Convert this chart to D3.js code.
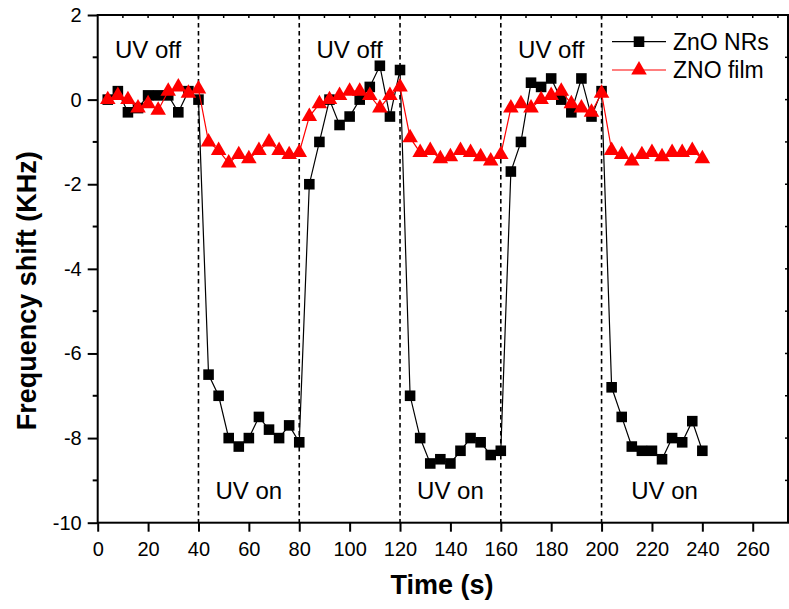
<!DOCTYPE html>
<html>
<head>
<meta charset="utf-8">
<script src="https://cdn.jsdelivr.net/npm/d3@7"></script>
<style>
  body { margin: 0; background: #fff; }
  text { font-family: "Liberation Sans", Arial, sans-serif; }
</style>
</head>
<body>
<svg id="chart" width="789" height="609"></svg>
<script>
"use strict";

// === Data ===
let times = [4, 8, 12, 16, 20, 24, 28, 32, 36, 40,
  44, 48, 52, 56, 60, 64, 68, 72, 76, 80,
  84, 88, 92, 96, 100, 104, 108, 112, 116, 120,
  124, 128, 132, 136, 140, 144, 148, 152, 156, 160,
  164, 168, 172, 176, 180, 184, 188, 192, 196, 200,
  204, 208, 212, 216, 220, 224, 228, 232, 236, 240];

let nrsValues = [0.0, 0.2, -0.3, -0.2, 0.1, 0.1, 0.1, -0.3, 0.2, 0.0,
  -6.5, -7.0, -8.0, -8.2, -8.0, -7.5, -7.8, -8.0, -7.7, -8.1,
  -2.0, -1.0, 0.0, -0.6, -0.4, 0.0, 0.3, 0.8, -0.4, 0.7,
  -7.0, -8.0, -8.6, -8.5, -8.6, -8.3, -8.0, -8.1, -8.4, -8.3,
  -1.7, -1.0, 0.4, 0.3, 0.5, 0.0, -0.3, 0.5, -0.4, 0.2,
  -6.8, -7.5, -8.2, -8.3, -8.3, -8.5, -8.0, -8.1, -7.6, -8.3];

let filmValues = [0.0, 0.1, 0.0, -0.2, -0.1, -0.25, 0.2, 0.3, 0.15, 0.25,
  -1.0, -1.2, -1.5, -1.3, -1.4, -1.2, -1.0, -1.2, -1.3, -1.25,
  -0.4, -0.1, 0.0, 0.1, 0.2, 0.2, 0.1, -0.2, 0.1, 0.3,
  -0.9, -1.25, -1.2, -1.4, -1.35, -1.2, -1.25, -1.35, -1.45, -1.3,
  -0.2, -0.1, -0.2, 0.0, 0.1, 0.2, -0.1, -0.2, -0.3, 0.15,
  -1.2, -1.3, -1.45, -1.3, -1.25, -1.35, -1.25, -1.25, -1.2, -1.4];

let switchTimes = [40, 80, 120, 160, 200];
let uvLabels = [
  { text: "UV off", t: 20, v: 0.98 },
  { text: "UV on", t: 60, v: -9.45 },
  { text: "UV off", t: 100, v: 0.98 },
  { text: "UV on", t: 140, v: -9.45 },
  { text: "UV off", t: 180, v: 0.98 },
  { text: "UV on", t: 225, v: -9.45 }
];
let xTicks = d3.range(0, 261, 20);
let yTicks = d3.range(-10, 3, 2);
let seriesNames = ["ZnO NRs", "ZNO film"];

// === Setup ===
let svg = d3.select("#chart");
let plotLeft = 97.7, plotRight = 788, plotTop = 15, plotBottom = 522.7;

let x = d3.scaleLinear().domain([0, 274]).range([plotLeft, plotRight]);
let y = d3.scaleLinear().domain([-10, 2]).range([plotBottom, plotTop]);

// === Axes ===
let xAxis = svg.append("g")
  .attr("transform", `translate(0,${plotBottom})`)
  .call(d3.axisBottom(x).tickValues(xTicks).tickSize(9).tickPadding(10).tickSizeOuter(0));
let yAxis = svg.append("g")
  .attr("transform", `translate(${plotLeft},0)`)
  .call(d3.axisLeft(y).tickValues(yTicks).tickSize(10).tickPadding(6).tickSizeOuter(0));

[xAxis, yAxis].forEach(g => {
  g.select(".domain").remove();
  g.selectAll(".tick line").attr("stroke", "#000").attr("stroke-width", 2);
  g.selectAll(".tick text").attr("font-size", 20).attr("fill", "#000")
    .attr("font-family", "'Liberation Sans', Arial, sans-serif");
});
yAxis.selectAll(".tick text").text(d => d < 0 ? "-" + Math.abs(d) : d);

// minor ticks on left (outward), mirror ticks on top and right (inward)
svg.append("g").selectAll("line")
  .data(d3.range(-9, 2, 2))
  .join("line")
  .attr("x1", plotLeft - 5).attr("x2", plotLeft)
  .attr("y1", d => y(d)).attr("y2", d => y(d))
  .attr("stroke", "#000").attr("stroke-width", 2);
svg.append("g").selectAll("line")
  .data(d3.range(10, 271, 10))
  .join("line")
  .attr("x1", d => x(d)).attr("x2", d => x(d))
  .attr("y1", plotTop).attr("y2", plotTop + 3)
  .attr("stroke", "#000").attr("stroke-width", 1.5);
svg.append("g").selectAll("line")
  .data(d3.range(-9, 2, 1))
  .join("line")
  .attr("x1", plotRight - 3).attr("x2", plotRight)
  .attr("y1", d => y(d)).attr("y2", d => y(d))
  .attr("stroke", "#000").attr("stroke-width", 1.5);

// frame
svg.append("rect")
  .attr("x", plotLeft).attr("y", plotTop)
  .attr("width", plotRight - plotLeft).attr("height", plotBottom - plotTop)
  .attr("fill", "none").attr("stroke", "#000").attr("stroke-width", 2);

// axis titles
svg.append("text")
  .attr("transform", `translate(36,${(plotTop + plotBottom) / 2 + 22}) rotate(-90)`)
  .attr("text-anchor", "middle")
  .attr("font-size", 27).attr("font-weight", "bold")
  .text("Frequency shift (KHz)");
svg.append("text")
  .attr("x", 442).attr("y", 594)
  .attr("text-anchor", "middle")
  .attr("font-size", 27).attr("font-weight", "bold")
  .text("Time (s)");

// === Switching lines and labels ===
svg.append("g").selectAll("line")
  .data(switchTimes)
  .join("line")
  .attr("x1", d => x(d)).attr("x2", d => x(d))
  .attr("y1", plotTop).attr("y2", plotBottom)
  .attr("stroke", "#000").attr("stroke-width", 1.6)
  .attr("stroke-dasharray", "4.5,3.5");

svg.append("g").selectAll("text")
  .data(uvLabels)
  .join("text")
  .attr("x", d => x(d.t)).attr("y", d => y(d.v))
  .attr("text-anchor", "middle")
  .attr("font-size", 24)
  .text(d => d.text);

// === Series ===
let nrs = times.map((t, i) => [t, nrsValues[i]]);
let film = times.map((t, i) => [t, filmValues[i]]);
let line = d3.line().x(d => x(d[0])).y(d => y(d[1]));
let square = d3.symbol(d3.symbolSquare, 112);
let triangle = d3.symbol(d3.symbolTriangle, 105);

svg.append("path").datum(nrs)
  .attr("d", line).attr("fill", "none").attr("stroke", "#000").attr("stroke-width", 1.2);
svg.append("g").selectAll("path")
  .data(nrs)
  .join("path")
  .attr("transform", d => `translate(${x(d[0])},${y(d[1])})`)
  .attr("d", square).attr("fill", "#000");

svg.append("path").datum(film)
  .attr("d", line).attr("fill", "none").attr("stroke", "#ff0000").attr("stroke-width", 1.2);
svg.append("g").selectAll("path")
  .data(film)
  .join("path")
  .attr("transform", d => `translate(${x(d[0])},${y(d[1])})`)
  .attr("d", triangle).attr("fill", "#ff0000");

// === Legend ===
let legend = svg.append("g");
[{ y: 41.7, color: "#000", sym: square }, { y: 70, color: "#ff0000", sym: triangle }]
  .forEach((item, i) => {
    legend.append("line")
      .attr("x1", 612).attr("x2", 666)
      .attr("y1", item.y).attr("y2", item.y)
      .attr("stroke", item.color).attr("stroke-width", 1.2);
    legend.append("path")
      .attr("transform", `translate(639,${item.y})`)
      .attr("d", item.sym).attr("fill", item.color);
    legend.append("text")
      .attr("x", 673).attr("y", item.y + 8)
      .attr("font-size", 23)
      .text(seriesNames[i]);
  });
</script>
</body>
</html>
